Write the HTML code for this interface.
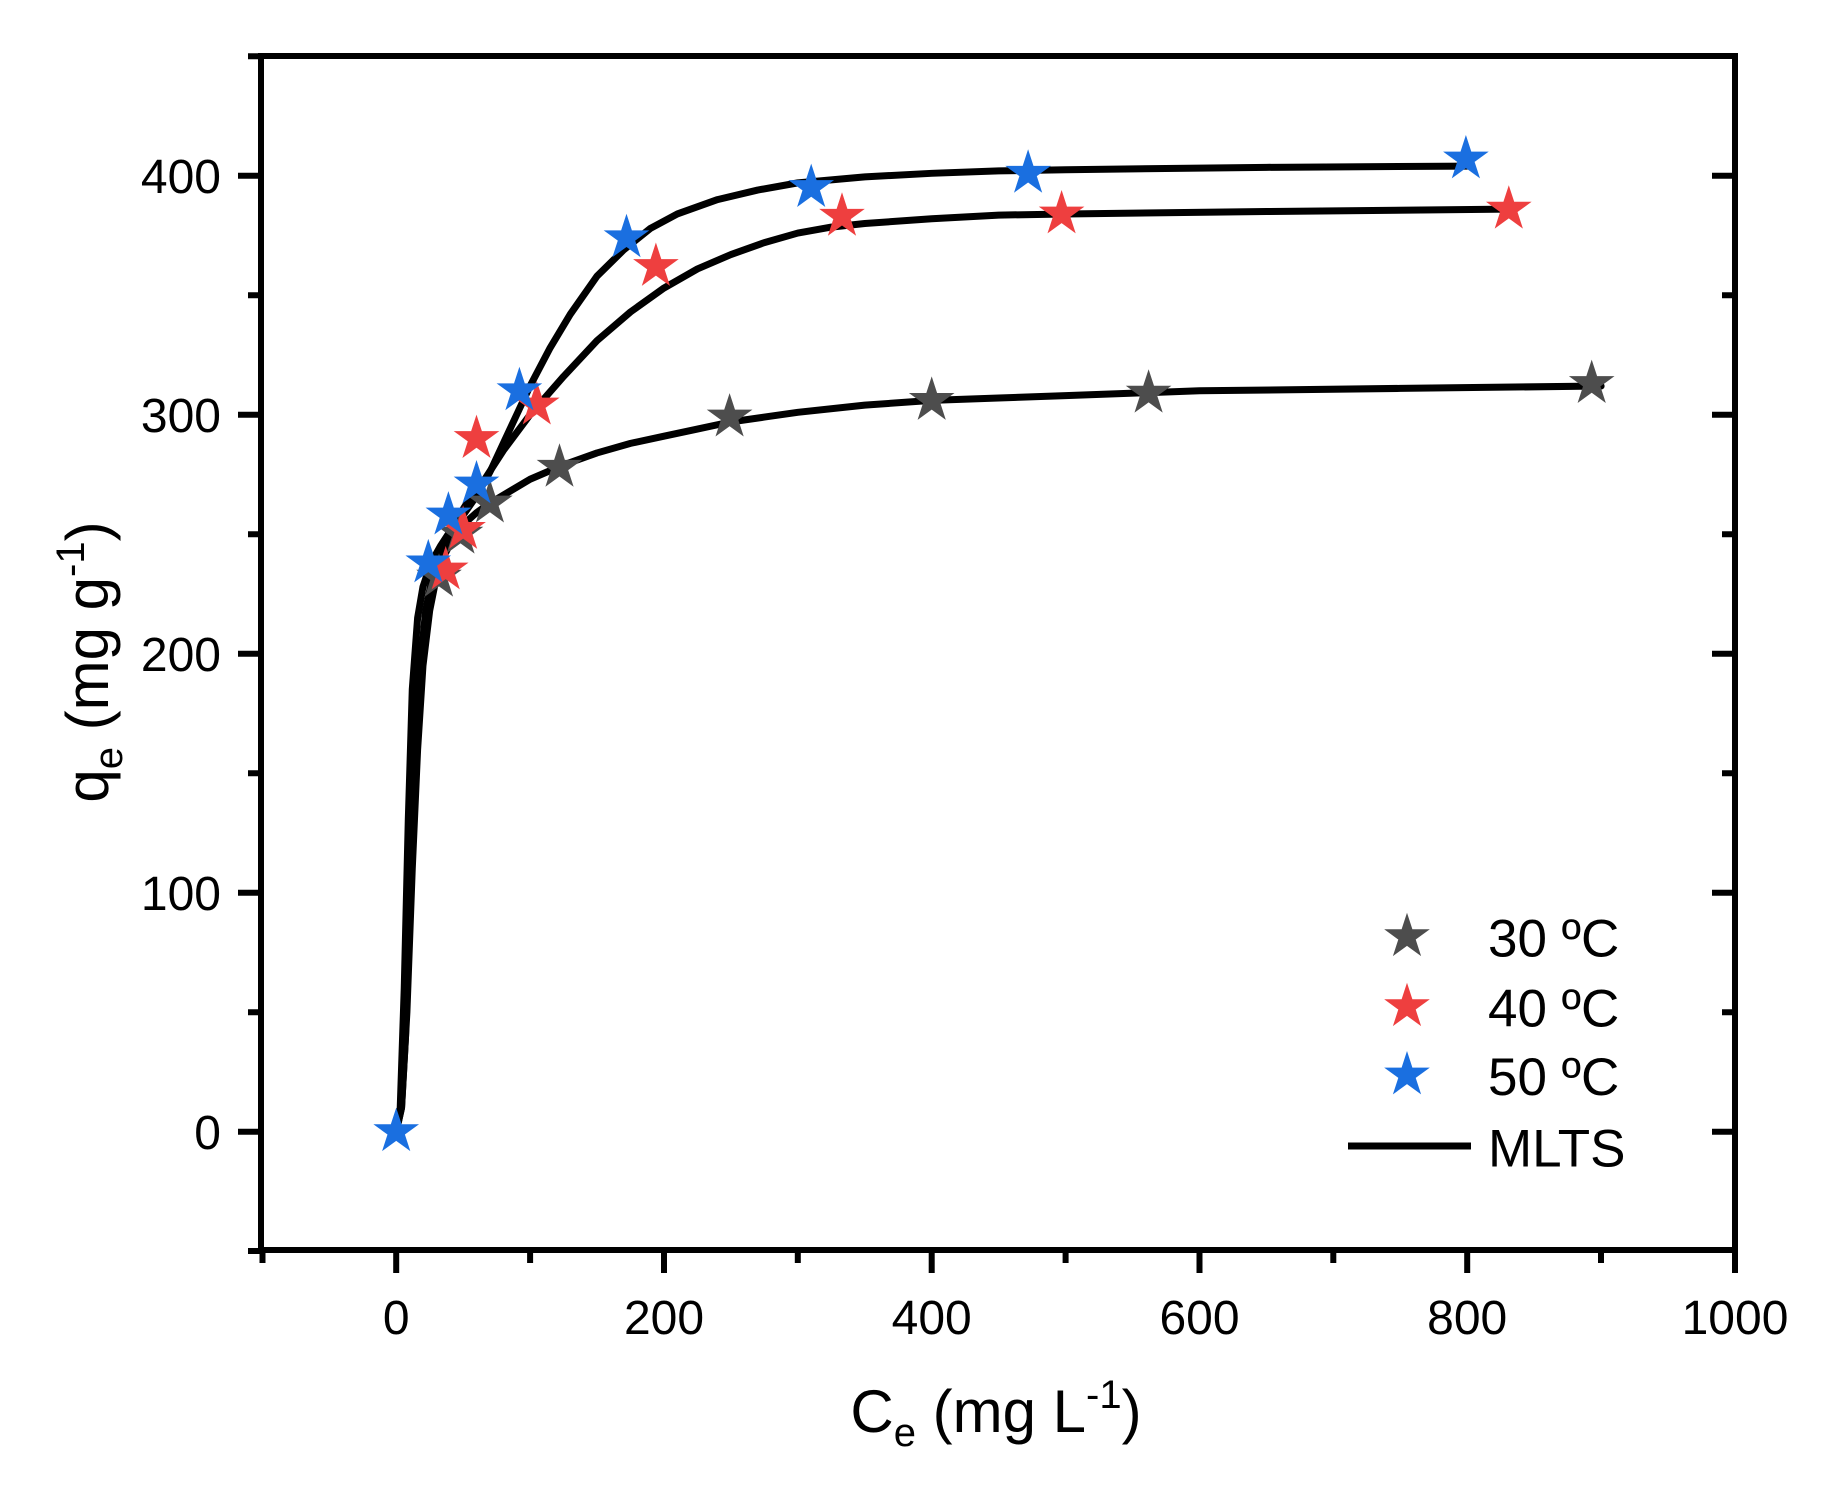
<!DOCTYPE html>
<html><head><meta charset="utf-8"><style>
html,body{margin:0;padding:0;background:#fff}
svg{display:block}
text{font-family:"Liberation Sans",Arial,sans-serif;fill:#000}
</style></head><body>
<svg width="1837" height="1488" viewBox="0 0 1837 1488" xmlns="http://www.w3.org/2000/svg">
<defs>
<polygon id="st" points="0,-24 5.39,-7.42 22.82,-7.42 8.71,2.83 14.11,19.42 0,9.17 -14.11,19.42 -8.71,2.83 -22.82,-7.42 -5.39,-7.42"/>
</defs>
<g stroke="#000" stroke-width="6" fill="none">
<rect x="261" y="56" width="1474" height="1194"/>
<path d="M261 1131.7h-23M261 892.7h-23M261 653.7h-23M261 414.7h-23M261 175.7h-23"/>
<path d="M261 1251h-13M261 1012.2h-13M261 773.2h-13M261 534.2h-13M261 295.2h-13M261 56.2h-13"/>
<path d="M1735 1131.7h-23M1735 892.7h-23M1735 653.7h-23M1735 414.7h-23M1735 175.7h-23"/>
<path d="M1735 1012.2h-13M1735 773.2h-13M1735 534.2h-13M1735 295.2h-13"/>
<path d="M396.2 1250v23M664 1250v23M931.7 1250v23M1199.5 1250v23M1467.2 1250v23M1735 1250v23"/>
<path d="M262.5 1250v13M530.1 1250v13M797.8 1250v13M1065.6 1250v13M1333.3 1250v13M1601 1250v13"/>
</g>
<g fill="none" stroke="#000" stroke-width="7" stroke-linejoin="round" stroke-linecap="round" transform="matrix(1.3388,0,0,-2.39,396.2,1131.7)">
<polyline vector-effect="non-scaling-stroke" points="0,0 4,10 8,50 12,110 16,160 20,195 25,218 30,232 35,240 42,248 50,254 60,259 70,263 85,268 100,273 125,279 150,284 175,288 200,291 225,294 250,297 275,299 300,301 350,304 400,306 450,307 500,308 600,310 750,311 900,312"/>
<polyline vector-effect="non-scaling-stroke" points="0,0 4,10 7,40 10,100 13,150 17,190 22,218 28,235 35,246 45,256 55,265 65,272 80,285 100,300 125,316 150,331 175,343 200,353 225,361 250,367 275,372 300,376 325,378.5 350,380 400,382 450,383.5 500,384 650,385 830,386"/>
<polyline vector-effect="non-scaling-stroke" points="0,0 3,10 6,60 9,130 12,185 16,215 20,228 26,238 33,245 40,251 50,258 60,266 70,276 80,288 90,300 100,312 115,328 130,342 150,358 170,369 190,378 210,384 240,390 270,394 300,397 350,399.5 400,401 450,402 500,402.5 650,403.5 800,404"/>
</g>
<g fill="#4d4d4d">
<use href="#st" x="439" y="577.2"/><use href="#st" x="460.5" y="534.2"/><use href="#st" x="489.9" y="503.1"/><use href="#st" x="559.5" y="467.3"/><use href="#st" x="729.6" y="417.1"/><use href="#st" x="931.7" y="400.4"/><use href="#st" x="1148.6" y="393.2"/><use href="#st" x="1591.7" y="383.6"/>
</g>
<g fill="#ee3f3f">
<use href="#st" x="445.7" y="570"/><use href="#st" x="463.1" y="529.4"/><use href="#st" x="476.5" y="438.6"/><use href="#st" x="536.8" y="405.1"/><use href="#st" x="655.9" y="266.5"/><use href="#st" x="842" y="216.3"/><use href="#st" x="1061.6" y="214"/><use href="#st" x="1508.8" y="209.2"/>
</g>
<g fill="#1a6fe0">
<use href="#st" x="396.2" y="1131.7"/><use href="#st" x="428.3" y="562.9"/><use href="#st" x="448.4" y="515.1"/><use href="#st" x="476.5" y="484"/><use href="#st" x="519.4" y="390.8"/><use href="#st" x="626.5" y="237.8"/><use href="#st" x="811.2" y="187.6"/><use href="#st" x="1028.1" y="173.3"/><use href="#st" x="1465.9" y="159"/>
</g>
<g font-size="48" text-anchor="end">
<text x="221" y="1149">0</text><text x="221" y="910">100</text><text x="221" y="671">200</text><text x="221" y="432">300</text><text x="221" y="193">400</text>
</g>
<g font-size="48" text-anchor="middle">
<text x="396.2" y="1334">0</text><text x="664" y="1334">200</text><text x="931.7" y="1334">400</text><text x="1199.5" y="1334">600</text><text x="1467.2" y="1334">800</text><text x="1735" y="1334">1000</text>
</g>
<text x="996" y="1432" font-size="60" text-anchor="middle">C<tspan font-size="40" dy="14">e</tspan><tspan dy="-14"> (mg L</tspan><tspan font-size="40" dy="-24">-1</tspan><tspan dy="24">)</tspan></text>
<text transform="translate(108,662) rotate(-90)" font-size="60" text-anchor="middle">q<tspan font-size="40" dy="14">e</tspan><tspan dy="-14"> (mg g</tspan><tspan font-size="40" dy="-24">-1</tspan><tspan dy="24">)</tspan></text>
<use href="#st" x="1407" y="936.7" fill="#4d4d4d"/>
<use href="#st" x="1407" y="1006.7" fill="#ee3f3f"/>
<use href="#st" x="1407" y="1075" fill="#1a6fe0"/>
<line x1="1348" y1="1146" x2="1471" y2="1146" stroke="#000" stroke-width="7"/>
<g font-size="53">
<text x="1488" y="956.7">30 ºC</text>
<text x="1488" y="1026.7">40 ºC</text>
<text x="1488" y="1095">50 ºC</text>
<text x="1488" y="1166.7">MLTS</text>
</g>
</svg>
</body></html>
